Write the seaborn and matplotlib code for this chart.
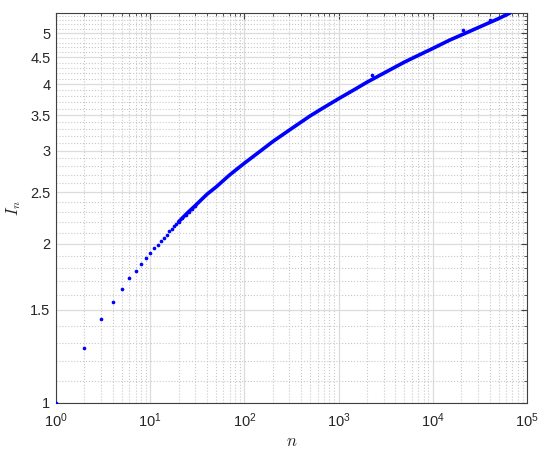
import numpy as np
import pandas as pd
import seaborn as sns
import matplotlib
matplotlib.use("Agg")
import matplotlib.pyplot as plt
from matplotlib.ticker import FixedLocator, NullFormatter, LogLocator

# valores: puntos sueltos (n pequeno)
n_puntos = [1, 2, 3, 4, 5, 6, 7, 8, 9, 10, 11, 12, 13, 14, 15, 16, 17, 18, 19, 20,
            22, 24, 26, 28, 30]
I_puntos = [1.00, 1.27, 1.44, 1.55, 1.64, 1.72, 1.78, 1.83, 1.88, 1.92, 1.96, 1.99,
            2.02, 2.05, 2.08, 2.11, 2.13, 2.16, 2.18, 2.20, 2.24, 2.27, 2.30, 2.33, 2.36]

# tramo denso (los puntos se juntan en una linea)
n_curva = [20, 25, 30, 40, 50, 70, 100, 150, 200, 300, 500, 700, 1000, 1500, 2000,
           3000, 5000, 7000, 10000, 15000, 20000, 30000, 50000, 66000]
I_curva = [2.20, 2.29, 2.36, 2.48, 2.56, 2.70, 2.84, 3.00, 3.12, 3.28, 3.49, 3.62,
           3.76, 3.92, 4.04, 4.20, 4.41, 4.54, 4.68, 4.85, 4.96, 5.12, 5.33, 5.46]

# algunos puntos que se salen de la curva
n_raros = [2245, 21000, 40500]
I_raros = [4.17, 5.07, 5.30]

yticks = [1, 1.5, 2, 2.5, 3, 3.5, 4, 4.5, 5]
ytick_labels = ["1", "1.5", "2", "2.5", "3", "3.5", "4", "4.5", "5"]

sns.set_style("white")
plt.rcParams['font.family'] = ['Liberation Sans', 'DejaVu Sans']
plt.rcParams['mathtext.fontset'] = 'cm'
plt.rcParams['axes.formatter.use_mathtext'] = True

fig = plt.figure(figsize=(5.5, 4.55), dpi=100)
ax = fig.add_axes([0.1018, 0.1143, 0.8564, 0.8571])

ax.set_xscale('log')
ax.set_yscale('log')

azul = (0, 0, 1)
sns.lineplot(x=n_curva, y=I_curva, ax=ax, color=azul, linewidth=2.6, zorder=3)
sns.scatterplot(x=n_puntos, y=I_puntos, ax=ax, color=azul, s=7, linewidth=0, zorder=4)
sns.scatterplot(x=n_raros, y=I_raros, ax=ax, color=azul, s=7, linewidth=0, zorder=4)

ax.set_xlim(1, 1e5)
ax.set_ylim(1, 5.46)

ax.xaxis.set_major_locator(LogLocator(base=10, numticks=10))
ax.xaxis.set_minor_locator(LogLocator(base=10, subs=np.arange(2, 10), numticks=20))
ax.xaxis.set_minor_formatter(NullFormatter())

ax.yaxis.set_major_locator(FixedLocator(yticks))
ax.set_yticklabels(ytick_labels)
menores = [round(v, 1) for v in np.arange(1.1, 5.45, 0.1) if round(v, 1) not in yticks]
ax.yaxis.set_minor_locator(FixedLocator(menores))
ax.yaxis.set_minor_formatter(NullFormatter())

# rejilla estilo matlab
ax.grid(True, which='major', color='#dcdcdc', linestyle='-', linewidth=0.9)
ax.grid(True, which='minor', color='#c8c8c8', linestyle=':', linewidth=0.8)
ax.set_axisbelow(True)

for lado in ax.spines.values():
    lado.set_color('#404040')
    lado.set_linewidth(0.8)

ax.tick_params(which='both', direction='in', top=True, right=True, colors='#404040',
               labelcolor='#262626', labelsize=10.5)
ax.tick_params(which='major', length=4)
ax.tick_params(which='minor', length=2.2)
ax.tick_params(axis='y', which='major', pad=4)
ax.tick_params(axis='x', which='major', pad=6)

ax.set_xlabel(r'$n$', fontsize=12, color='#262626', labelpad=3)
ax.set_ylabel(r'$I_n$', fontsize=12, color='#262626', labelpad=5)

plt.savefig('out.png', dpi=100)
